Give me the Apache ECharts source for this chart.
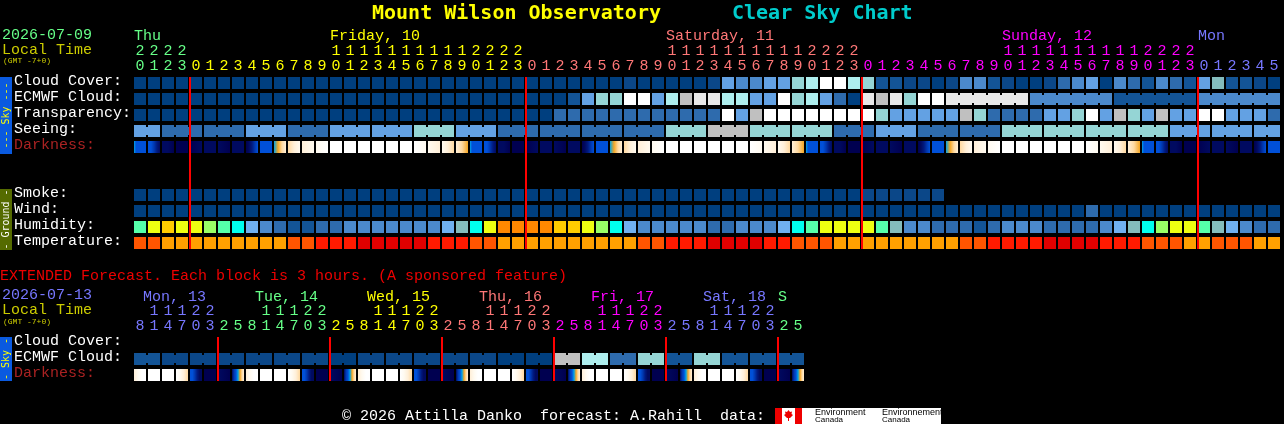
<!DOCTYPE html>
<html>
<head>
<meta charset="utf-8">
<style>html,body{margin:0;padding:0;background:#000;overflow:hidden}#c{width:1284px;height:424px}</style>
<script src="https://cdn.jsdelivr.net/npm/echarts@6/dist/echarts.min.js"></script>
</head>
<body>
<div id="c"></div>
<script>
// ---------- tick labels ----------
const hourUnits = [0,1,2,3,0,1,2,3,4,5,6,7,8,9,0,1,2,3,4,5,6,7,8,9,0,1,2,3,0,1,2,3,4,5,6,7,8,9,0,1,2,3,4,5,6,7,8,9,0,1,2,3,0,1,2,3,4,5,6,7,8,9,0,1,2,3,4,5,6,7,8,9,0,1,2,3,0,1,2,3,4,5];
const hourTens  = [2,2,2,2,'','','','','','','',  '','','',1,1,1,1,1,1,1,1,1,1,2,2,2,2,'','','','','','','','','','',1,1,1,1,1,1,1,1,1,1,2,2,2,2,'','','','','','','','','','',1,1,1,1,1,1,1,1,1,1,2,2,2,2,'','','','','',''];
const dayIndex  = [0,0,0,0,1,1,1,1,1,1,1,1,1,1,1,1,1,1,1,1,1,1,1,1,1,1,1,1,2,2,2,2,2,2,2,2,2,2,2,2,2,2,2,2,2,2,2,2,2,2,2,2,3,3,3,3,3,3,3,3,3,3,3,3,3,3,3,3,3,3,3,3,3,3,3,3,4,4,4,4,4,4];
const dayLabels = {0:'Thu',14:'Friday, 10',38:'Saturday, 11',62:'Sunday, 12',76:'Mon'};
const dayColors = ['#66ff88','#ffff00','#ff7777','#ff00ff','#7777ff'];

const extHourUnits = [8,1,4,7,0,3,2,5,8,1,4,7,0,3,2,5,8,1,4,7,0,3,2,5,8,1,4,7,0,3,2,5,8,1,4,7,0,3,2,5,8,1,4,7,0,3,2,5];
const extHourTens  = ['',1,1,1,2,2,'','','',1,1,1,2,2,'','','',1,1,1,2,2,'','','',1,1,1,2,2,'','','',1,1,1,2,2,'','','',1,1,1,2,2,'',''];
const extDayIndex  = [0,0,0,0,0,0,1,1,1,1,1,1,1,1,2,2,2,2,2,2,2,2,3,3,3,3,3,3,3,3,4,4,4,4,4,4,4,4,5,5,5,5,5,5,5,5,6,6];
const extDayLabels = {0:' Mon, 13',8:' Tue, 14',16:' Wed, 15',24:' Thu, 16',32:' Fri, 17',40:' Sat, 18',46:'S'};
const extDayColors = ['#7777ff','#66ff88','#ffff00','#ff7777','#ff00ff','#7777ff','#66ff88'];
const extLabelDay  = {0:0,8:1,16:2,24:3,32:4,40:5,46:6};

const mainRowLabels = ['Cloud Cover:','ECMWF Cloud:','Transparency:','Seeing:','Darkness:','','','Smoke:','Wind:','Humidity:','Temperature:'];
const extRowLabels  = ['Cloud Cover:','ECMWF Cloud:','Darkness:'];

// ---------- colour of each forecast level ----------
const levelColors = ['#003f7f','#0b4788','#135496','#2e6bad','#4b89cb','#63a1e3','#70b0f0','#84bcbc','#95d5d5','#aeeeee','#c0c0c0','#e8e8e8','#ffffff',
  '#00ffee','#55ffaa','#99ff66','#eeff11','#ffcc00','#ff8800','#ff5500','#ffa000','#ff1a00','#e00000'];
const darkColors  = ['#000050','#000a60','#001a80','#0038b0','#0050d8','#00a4e8','#f5a623','#ffd9a0','#ffefd8','#fffaf0','#ffffff'];

// ---------- series values ----------
const cloudCover = [0,0,0,0,0,0,0,0,0,0,0,0,0,0,0,0,0,0,0,0,0,0,0,0,0,0,0,0,0,0,
  0,0,0,0,0,1,0,0,0,0, 0,1,5,4,4,5,5,8,9,12, 12,9,8,2,2,1,1,0,1,4, 4,2,1,0,0,1,3,4,5,0, 4,3,2,4,3,2,5,7,2,2, 1,0];
const ecmwfCloud = [0,0,0,0,0,0,0,0,0,0,0,0,0,0,0,0,0,0,0,0,0,0,0,0,0,0,0,0,0,0,
  0,2,5,8,8,12,12,5,9,10, 11,11,9,9,5,5,12,8,9,5, 3,0,11,10,11,8,12,12,11,11, 11,11,11,11,4,4,4,4,4,4, 2,2,2,2,2,2,4,4,4,4, 4,4];
const transparency = [0,0,0,0,0,0,0,0,0,0,0,0,0,0,0,0,0,0,0,0,0,0,0,0,0,0,0,0,0,0,
  3,3,3,3,3,3,3,3,3,3, 3,3,12,5,10,12,12,12,12,12, 12,12,12,8,5,5,5,5,5,10, 8,3,3,3,3,5,5,8,12,5, 10,8,5,10,5,5,12,12,5,5, 5,3];
const seeing = [5,5,3,3,3,3,3,3,5,5, 5,3,3,3,5,5,5,5,5,5, 8,8,8,5,5,5,3,3,3,3, 3,3,3,3,3,3,3,3,8,8,
  8,10,10,10,8,8,8,8,8,8, 3,3,3,5,5,5,3,3,3,3, 3,3,8,8,8,8,8,8,8,8, 8,8,8,8,5,5,5,5,5,5, 5,5];
const smoke = [0,0,0,0,0,0,0,0,0,0,0,0,0,0,0,0,0,0,0,0,0,0,0,0,0,0,0,0,0,0,0,0,0,0,0,0,0,0,0,0,0,0,0,0,0,0,0,0,0,0,0,0,1,1,1,1,1,1];
const wind = [0,0,0,0,0,0,0,0,0,0,0,0,0,0,0,0,0,0,0,0,0,0,0,0,0,0,0,0,0,0,0,0,0,0,0,0,0,0,0,0,0,0,0,0,0,0,0,0,0,0,0,0,0,0,0,0,0,0,0,0,0,0,0,0,0,0,0,0,3,0,0,0,0,0,0,0,0,0,0,0,0,0];
const humidity = [14,16,17,16,16,15,14,13,6,4, 3,2,2,3,3,4,4,4,4,4, 4,4,6,7,13,16,18,18,18,18, 17,17,16,15,13,6,4,4,4,4,
  4,3,3,4,4,4,6,13,14,16, 16,16,16,14,7,4,4,3,3,3, 2,3,4,4,4,3,3,3,3,4, 6,7,13,15,16,16,14,7,6,4, 3,3];
const temperature = [19,19,20,20,20,20,20,20,20,20, 20,19,19,21,21,21,22,22,22,22, 22,21,21,21,19,19,20,20,20,20, 20,20,20,20,20,20,19,19,21,21,
  21,22,22,22,22,21,21,19,19,19, 20,20,20,20,20,20,20,20,20,19, 19,21,21,21,21,22,22,22,22,21, 21,21,19,19,19,20,20,19,19,19, 20,20];
const darkness = [[5,4,4,4,4,4,4],[4,4,3,2,1],[1,1,0],[0],[0,1],[1],[1,0],[1],[0,1,2,3,4],[4],[5,6,7,8],[7,8,9],[8,9],[9,10],[10],[10],[10],[10],[10],[10],[10,9],[9,8],[9,8,7],[8,7,6],
  [5,4,4,4,4,4,4],[4,4,3,2,1],[1,1,0],[0],[0,1],[1],[1,0],[1],[0,1,2,3,4],[4],[5,6,7,8],[7,8,9],[8,9],[9,10],[10],[10],[10],[10],[10],[10],[10,9],[9,8],[9,8,7],[8,7,6],
  [5,4,4,4,4,4,4],[4,4,3,2,1],[1,1,0],[0],[0,1],[1],[1,0],[1],[0,1,2,3,4],[4],[5,6,7,8],[7,8,9],[8,9],[9,10],[10],[10],[10],[10],[10],[10],[10,9],[9,8],[9,8,7],[8,7,6],
  [5,4,4,4,4,4,4],[4,4,3,2,1],[1,1,0],[0],[0,1],[1],[1,0],[1],[0,1,2,3,4],[4]];
const seeingBlockStarts = [0,2,5,8,11,14,17,20,23,26,29,32,35,38,41,44,47,50,53,56,59,62,65,68,71,74,77,80];
const ecmwfBlockStarts = [58,64,70,76];
const midnightColumns = [4,28,52,76];

const extEcmwf = [2,2,1,1,1,1,1,1,1,1,1,1,1,1,0,0,1,1,1,1,1,1,1,1,1,1,0,0,0,0,10,10,9,9,3,3,8,8,2,2,8,8,2,2,2,2,2,2];
const extDarkness = [[8,9,10,10],[10],[10],[10,9,8,7],[4,4,3,2,1,1],[0],[1,0],[1,3,4,5,6,7,8],
  [8,9,10,10],[10],[10],[10,9,8,7],[4,4,3,2,1,1],[0],[1,0],[1,3,4,5,6,7,8],
  [8,9,10,10],[10],[10],[10,9,8,7],[4,4,3,2,1,1],[0],[1,0],[1,3,4,5,6,7,8],
  [8,9,10,10],[10],[10],[10,9,8,7],[4,4,3,2,1,1],[0],[1,0],[1,3,4,5,6,7,8],
  [8,9,10,10],[10],[10],[10,9,8,7],[4,4,3,2,1,1],[0],[1,0],[1,3,4,5,6,7,8],
  [8,9,10,10],[10],[10],[10,9,8,7],[4,4,3,2,1,1],[0],[1,0],[1,3,4,5,6,7,8]];
const extBlockStarts = [0,2,4,6,8,10,12,14,16,18,20,22,24,26,28,30,32,34,36,38,40,42,44,46];
const extMidnightColumns = [6,14,22,30,38,46];

// ---------- drawing ----------
const MONO = '"Liberation Mono"';
const BOLD = '"DejaVu Sans Mono"';
const chart = echarts.init(document.getElementById('c'), null, {renderer:'canvas', width:1284, height:424});
const CELL_W = 12, CELL_H = 12, LINK_INSET = 2;

function levelSeries(name, row, values, xIdx, yIdx, blockStarts) {
  const first = blockStarts ? blockStarts[0] : Infinity;
  return {
    name, type:'custom', xAxisIndex:xIdx, yAxisIndex:yIdx, clip:false, silent:true, z:2,
    data: values.map((v,i)=>[i,row,v]),
    renderItem(params, api) {
      const c = api.coord([api.value(0), api.value(1)]);
      const col = api.value(0);
      const fill = levelColors[api.value(2)];
      const kids = [{type:'rect', shape:{x:c[0]-CELL_W/2, y:c[1]-CELL_H/2, width:CELL_W, height:CELL_H}, style:{fill}}];
      const linked = blockStarts && col >= first && col+1 < values.length && !blockStarts.includes(col+1);
      if (linked) {
        const step = api.size([1,1])[0];
        kids.push({type:'rect', shape:{x:c[0]+CELL_W/2, y:c[1]-CELL_H/2+LINK_INSET, width:step-CELL_W, height:CELL_H-2*LINK_INSET}, style:{fill}});
      }
      return {type:'group', children:kids};
    }
  };
}
function darknessSeries(name, row, stops, xIdx, yIdx) {
  return {
    name, type:'custom', xAxisIndex:xIdx, yAxisIndex:yIdx, clip:false, silent:true, z:2,
    data: stops.map((s,i)=>[i,row,i]),
    renderItem(params, api) {
      const c = api.coord([api.value(0), api.value(1)]);
      const s = stops[api.value(2)];
      const fill = s.length === 1 ? darkColors[s[0]] :
        new echarts.graphic.LinearGradient(0,0,1,0, s.map((l,k)=>({offset:k/(s.length-1), color:darkColors[l]})));
      return {type:'rect', shape:{x:c[0]-CELL_W/2, y:c[1]-CELL_H/2, width:CELL_W, height:CELL_H}, style:{fill}};
    }
  };
}
function lineSeries(name, columns, rowFrom, rowTo, xIdx, yIdx) {
  return {
    name, type:'custom', xAxisIndex:xIdx, yAxisIndex:yIdx, clip:false, silent:true, z:5,
    data: columns.map(c=>[c,rowFrom,rowTo]),
    renderItem(params, api) {
      const a = api.coord([api.value(0), api.value(1)]);
      const b = api.coord([api.value(0), api.value(2)]);
      const step = api.size([1,1])[0];
      return {type:'rect', shape:{x:a[0]-step/2, y:a[1]-CELL_H/2, width:2, height:b[1]-a[1]+CELL_H}, style:{fill:'#ff0000'}};
    }
  };
}
function hourAxis(gridIndex, labels, colorOf, offset) {
  return {type:'category', gridIndex, position:'top', offset, data:labels.map(String),
    axisLine:{show:false}, axisTick:{show:false}, splitLine:{show:false},
    axisLabel:{interval:0, margin:1, fontFamily:MONO, fontSize:15, color:(v,i)=>colorOf(i)}};
}
function dayAxis(gridIndex, count, map, colorOf, offset) {
  const labels = []; for (let i=0;i<count;i++) labels.push(map[i]||'');
  return {type:'category', gridIndex, position:'top', offset, data:labels,
    axisLine:{show:false}, axisTick:{show:false}, splitLine:{show:false},
    axisLabel:{interval:0, margin:1, align:'left', fontFamily:MONO, fontSize:15, color:(v,i)=>colorOf(i)}};
}
function rowAxis(gridIndex, labels) {
  return {type:'category', gridIndex, inverse:true, data:labels,
    axisLine:{show:false}, axisTick:{show:false}, splitLine:{show:false},
    axisLabel:{interval:0, margin:113, align:'left', fontFamily:MONO, fontSize:15,
      color:v=>v==='Darkness:'?'#aa2222':'#ffffff'}};
}
function plotRows(gridIndex, labels){ return {type:'category', gridIndex, inverse:true, show:false, data:labels}; }
function txt(text, x, cy, color, size, bold) {
  return {text, left:x, top:cy-Math.round(size*0.55)-(bold?0:1), padding:0, textStyle:{color, fontFamily:bold?BOLD:MONO, fontSize:size, fontWeight:bold?'bold':'normal', lineHeight:Math.round(size*1.25)}};
}
function sideBar(x0,y0,h,fill,label,color){
  return [
    {type:'rect', shape:{x:x0,y:y0,width:12,height:h}, style:{fill}},
    {type:'text', x:x0+6, y:y0+h/2, rotation:Math.PI/2, style:{text:label, fill:color, font:'10px "DejaVu Sans Mono"', align:'center', verticalAlign:'middle'}}
  ];
}

const mainColor = i => dayColors[dayIndex[i]];
const extColor  = i => extDayColors[extDayIndex[i]];

chart.setOption({
  backgroundColor:'#000', animation:false,
  title:[
    txt('Mount Wilson Observatory',372,12,'#ffff00',20,true),
    txt('Clear Sky Chart',732,12,'#00cccc',20,true),
    txt('2026-07-09',2,35,'#66ff88',15),
    txt('Local Time',2,50,'#cccc00',15),
    txt('(GMT -7+0)',3,61,'#cccc00',8),
    txt('EXTENDED Forecast. Each block is 3 hours. (A sponsored feature)',0,276,'#ee0000',15),
    txt('2026-07-13',2,295,'#7777ff',15),
    txt('Local Time',2,310,'#cccc00',15),
    txt('(GMT -7+0)',3,322,'#cccc00',8),
    txt('\u00a9 2026 Attilla Danko  forecast: A.Rahill  data:',342,416,'#ffffff',15)
  ],
  grid:[
    {left:133, top:75, width:14*82, height:16*11},
    {left:127, top:73, width:14*82, height:16*11},
    {left:133, top:335, width:14*48, height:16*3},
    {left:127, top:333, width:14*48, height:16*3}
  ],
  xAxis:[
    hourAxis(0,hourUnits,mainColor,0),
    hourAxis(0,hourTens,mainColor,15),
    dayAxis(1,82,dayLabels,mainColor,28),
    hourAxis(2,extHourUnits,extColor,0),
    hourAxis(2,extHourTens,extColor,15),
    dayAxis(3,48,extDayLabels,i=>extDayColors[extLabelDay[i]||0],27)
  ],
  yAxis:[ plotRows(0,mainRowLabels), rowAxis(1,mainRowLabels), plotRows(2,extRowLabels), rowAxis(3,extRowLabels) ],
  series:[
    levelSeries('Cloud Cover',0,cloudCover,0,0),
    levelSeries('ECMWF Cloud',1,ecmwfCloud,0,0,ecmwfBlockStarts),
    levelSeries('Transparency',2,transparency,0,0),
    levelSeries('Seeing',3,seeing,0,0,seeingBlockStarts),
    darknessSeries('Darkness',4,darkness,0,0),
    levelSeries('Smoke',7,smoke,0,0),
    levelSeries('Wind',8,wind,0,0),
    levelSeries('Humidity',9,humidity,0,0),
    levelSeries('Temperature',10,temperature,0,0),
    lineSeries('Midnight',midnightColumns,0,10,0,0),
    levelSeries('Extended ECMWF Cloud',1,extEcmwf,3,2,extBlockStarts),
    darknessSeries('Extended Darkness',2,extDarkness,3,2),
    lineSeries('Extended Midnight',extMidnightColumns,0,2,3,2)
  ],
  graphic:[
    ...sideBar(0,77,77,'#0a5ae0','--- Sky ---','#ffff00'),
    ...sideBar(0,189,61,'#556b00','- Ground -','#ffffff'),
    ...sideBar(0,337,44,'#0a5ae0','- Sky -','#ffff00'),
    {type:'rect', shape:{x:775,y:408,width:166,height:16}, style:{fill:'#ffffff'}},
    {type:'rect', shape:{x:775,y:408,width:7,height:16}, style:{fill:'#ee0000'}},
    {type:'rect', shape:{x:795,y:408,width:7,height:16}, style:{fill:'#ee0000'}},
    {type:'polygon', shape:{points:[[788.5,410],[790,412],[792,411.5],[791.5,414],[793,415],[790,418],[789,418],[789,421],[788,421],[788,418],[787,418],[784,415],[785.5,414],[785,411.5],[787,412]]}, style:{fill:'#ee0000'}},
    {type:'text', x:815, y:408, style:{text:'Environment', fill:'#000', font:'9px "Liberation Sans"'}},
    {type:'text', x:815, y:416, style:{text:'Canada', fill:'#000', font:'8px "Liberation Sans"'}},
    {type:'text', x:882, y:408, style:{text:'Environnement', fill:'#000', font:'9px "Liberation Sans"'}},
    {type:'text', x:882, y:416, style:{text:'Canada', fill:'#000', font:'8px "Liberation Sans"'}}
  ]
});
</script>
</body>
</html>
